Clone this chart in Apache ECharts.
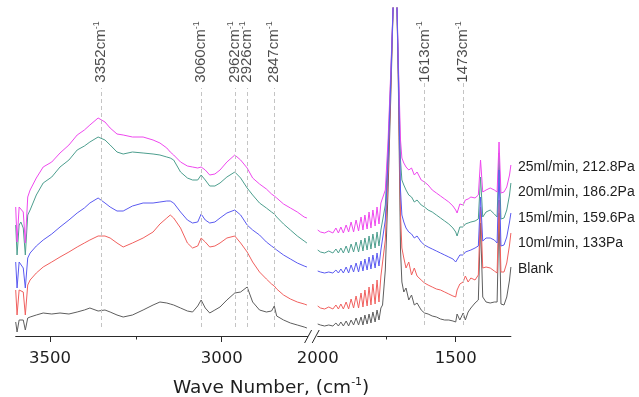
<!DOCTYPE html>
<html><head><meta charset="utf-8">
<script src="https://cdn.jsdelivr.net/npm/echarts@6/dist/echarts.min.js"></script>
<style>html,body{margin:0;padding:0;background:#fff}#c{width:639px;height:397px}</style>
</head><body><div id="c"></div>
<script>
// ---- data (intensity in arbitrary units, offset spectra) ----
const seriesNames = ['Blank', '10ml/min, 133Pa', '15ml/min, 159.6Pa', '20ml/min, 186.2Pa', '25ml/min, 212.8Pa'];
const legendOrder = ['25ml/min, 212.8Pa', '20ml/min, 186.2Pa', '15ml/min, 159.6Pa', '10ml/min, 133Pa', 'Blank'];
const seriesColors = ['#5e5e5e', '#f0605e', '#5a5af0', '#4d9e8e', '#ee48ee'];

const leftWave = [3600,3596,3590,3585,3578,3572,3565,3558,3540,3520,3495,3471,3445,3421,3400,3384,3360,3340,3325,3305,3287,3260,3229,3200,3180,3160,3150,3140,3120,3100,3085,3070,3060,3048,3035,3020,3005,2985,2962,2945,2926,2910,2890,2870,2855,2847,2840,2820,2800,2780,2760,2752];
const rightWave = [2000,1990,1975,1960,1945,1934,1925,1916,1907,1897,1888,1879,1870,1861,1852,1843,1836,1829,1821,1814,1807,1800,1792,1785,1778,1771,1765,1755,1745,1735,1725,1720,1715,1708,1700,1695,1688,1680,1670,1660,1650,1640,1625,1613,1600,1585,1570,1555,1540,1525,1510,1500,1495,1485,1473,1465,1455,1445,1430,1418,1410,1402,1390,1375,1360,1350,1343,1336,1325,1315,1305,1300];

const blankLeft = [14,4,16,14,16,6,18,19,21,23,22,23,22,24,26,28,25,26,24,21,19,21,26,31,34,33,32,31,28,25,24,30,36,28,23,26,29,36,43,44,49,34,26,24,25,30,20,16,13,11,9,8];
const ml10Left  = [46,21,46,48,44,21,51,56,63,69,74,79,84,89,93,96,100,100,98,93,89,93,98,104,112,118,121,118,108,93,88,90,98,94,89,90,93,98,100,93,84,74,64,57,52,50,47,41,37,34,32,31];
const ml15Left  = [74,48,74,74,68,48,78,83,90,96,102,109,116,123,128,133,138,133,129,125,125,130,133,133,134,135,135,133,124,116,113,114,122,116,113,114,118,123,126,121,111,106,101,94,90,88,86,81,77,73,70,69];
const ml20Left  = [111,81,111,114,108,81,121,126,141,153,159,169,176,186,190,194,199,196,191,184,182,184,183,182,181,179,178,176,164,158,156,156,161,156,150,150,153,159,164,158,148,141,133,128,124,122,119,112,106,100,95,93];
const ml25Left  = [129,94,129,131,124,93,139,146,158,169,174,183,191,201,206,211,218,214,208,202,201,199,199,196,193,188,184,181,174,170,169,168,169,166,161,162,166,174,181,176,168,158,152,147,142,140,138,132,128,124,119,118];

const blankRight = [12,11,10,11,10, 13,10,14,10,15,10,16,11,18,11,19,11,21,12,22,13,24,14,26,16,28, 31,66,146,241,345,420,360,256,86,54, 44,48,36,41,31,33,26,23,22,20, 19,17,16,16,15,14,22,16,23,16, 24,28,33,36,113,39,34,33,34,34, 123,32,31,39,56,69];
const ml10Right  = [30,28,27,29,27, 31,27,32,27,34,27,37,28,40,28,43,29,46,30,49,31,52,32,56,34,60, 61,96,166,251,345,420,360,261,121,88, 78,68,74,61,68,60,56,53,51,49, 47,46,44,42,40,39,46,52,54,60, 54,58,56,61,129,68,69,68,65,63, 136,64,64,73,91,103];
const ml15Right  = [65,64,63,64,63, 66,63,67,63,69,63,71,64,73,64,75,65,77,66,79,67,81,68,83,70,86, 86,116,176,256,345,420,360,266,146,121, 114,108,104,102,98,100,94,91,89,87, 85,83,81,79,77,74,72,81,81,84, 85,86,88,90,139,95,98,98,96,93, 166,90,91,99,114,123];
const ml20Right  = [86,84,83,85,83, 87,83,88,83,90,83,92,84,94,84,96,85,98,86,100,87,102,88,104,90,106, 106,131,186,261,345,420,360,271,176,156, 151,146,141,139,134,136,131,129,126,124, 121,118,115,112,108,104,100,109,109,112, 113,114,115,117,159,119,124,126,122,119, 183,117,118,126,141,153];
const ml25Right  = [106,104,103,105,103, 108,103,109,103,111,104,114,104,116,105,119,106,121,107,124,108,126,110,129,112,133, 131,146,196,266,345,420,360,276,196,178, 173,169,166,168,161,164,156,154,151,146, 143,140,137,134,130,126,123,132,131,136, 137,139,138,141,176,144,146,148,146,144, 194,143,144,149,161,171];

const peaksLeft = [3352, 3060, 2962, 2926, 2847];
const peaksRight = [1613, 1473];
const leftTickLabels = [3500, 3000];
const leftMinorTicks = [3250];
const rightTickLabels = [2000, 1500];
const rightMajorTicks = [1500];
const rightMinorTicks = [1750];

// ---- build ----
const leftVals = [blankLeft, ml10Left, ml15Left, ml20Left, ml25Left];
const rightVals = [blankRight, ml10Right, ml15Right, ml20Right, ml25Right];
const drawOrder = [0, 1, 3, 4, 2];

const chart = echarts.init(document.getElementById('c'), null, {renderer: 'canvas'});
const hFont = 'DejaVu Sans';
const lFont = 'Liberation Sans';

function xAx(gridIndex, min, max, labels, ticks, tickLen, showLine) {
  return {
    type: 'value', gridIndex, min, max, inverse: true, position: 'bottom', offset: 0,
    axisLine: {show: showLine, onZero: false, lineStyle: {color: '#2a2a2a', width: 1}},
    axisTick: {show: true, inside: false, length: tickLen, customValues: ticks, lineStyle: {color: '#2a2a2a', width: 1}},
    axisLabel: {show: labels.length > 0, customValues: labels.length ? labels : undefined, margin: 14,
      formatter: v => String(v),
      fontFamily: hFont, fontSize: 16.5, color: '#1e1e1e'},
    splitLine: {show: false}
  };
}
const yAx = gi => ({type: 'value', gridIndex: gi, min: 0, max: 328, show: false});

const series = [];
drawOrder.forEach(k => {
  series.push({name: seriesNames[k], type: 'line', xAxisIndex: 0, yAxisIndex: 0, showSymbol: false, symbol: 'none',
    data: leftWave.map((w, i) => [w, leftVals[k][i]]), lineStyle: {color: seriesColors[k], width: 1},
    itemStyle: {color: seriesColors[k]}, clip: true, silent: true});
  series.push({name: seriesNames[k], type: 'line', xAxisIndex: 2, yAxisIndex: 1, showSymbol: false, symbol: 'none',
    data: rightWave.map((w, i) => [w, rightVals[k][i]]), lineStyle: {color: seriesColors[k], width: 1},
    itemStyle: {color: seriesColors[k]}, clip: true, silent: true});
});

function peakSeries(xi, yi, peaks, lineTop, lineBottom) {
  return {
    type: 'scatter', xAxisIndex: xi, yAxisIndex: yi, symbolSize: 1, silent: true,
    itemStyle: {color: 'rgba(0,0,0,0)'},
    data: peaks.map(p => [p, 284]),
    label: {show: true, position: 'inside', rotate: 90, align: 'center', verticalAlign: 'middle',
      formatter: p => '{a|' + p.value[0] + 'cm}{b|-1}',
      rich: {a: {fontFamily: lFont, fontSize: 15, color: '#1e1e1e', lineHeight: 18, verticalAlign: 'middle'},
             b: {fontFamily: lFont, fontSize: 9, color: '#1e1e1e', lineHeight: 18, verticalAlign: 'top'}}},
    markLine: {silent: true, symbol: ['none', 'none'], label: {show: false},
      lineStyle: {color: '#c4c4c4', type: [4, 3], width: 1},
      data: peaks.map(p => [{coord: [p, lineBottom]}, {coord: [p, lineTop]}])}
  };
}
series.push(peakSeries(0, 0, peaksLeft, 248, 9));
series.push(peakSeries(2, 1, peaksRight, 254, 11));

chart.setOption({
  animation: false,
  backgroundColor: '#fff',
  grid: [
    {left: 15.7, width: 291.9, top: 8, height: 328},
    {left: 317.7, width: 193.2, top: 8, height: 328}
  ],
  xAxis: [
    xAx(0, 2750, 3600, leftTickLabels, leftTickLabels, 6, true),
    xAx(0, 2750, 3600, [], leftMinorTicks, 3.5, false),
    xAx(1, 1300, 2000, rightTickLabels, rightMajorTicks, 6, true),
    xAx(1, 1300, 2000, [], rightMinorTicks, 3.5, false)
  ],
  yAxis: [yAx(0), yAx(1)],
  legend: {
    data: legendOrder, orient: 'vertical', left: 513, top: 160, icon: 'none',
    itemWidth: 0, itemHeight: 14, itemGap: 11.5, selectedMode: false, padding: 0,
    textStyle: {fontFamily: lFont, fontSize: 14, color: '#1e1e1e'}
  },
  title: {
    text: 'Wave Number, (cm{s|-1})', left: 173, top: 377, padding: 0,
    textStyle: {fontFamily: hFont, fontSize: 18.5, fontWeight: 'normal', color: '#1e1e1e', lineHeight: 22,
      rich: {s: {fontFamily: hFont, fontSize: 11, color: '#1e1e1e', verticalAlign: 'top', lineHeight: 22}}}
  },
  series
});

// axis-break marks
const pA = chart.convertToPixel({xAxisIndex: 0, yAxisIndex: 0}, [2750, 0]);
const pB = chart.convertToPixel({xAxisIndex: 2, yAxisIndex: 1}, [2000, 0]);
const slash = cx => ({type: 'line', shape: {x1: cx - 3.5, y1: pA[1] + 7, x2: cx + 3.5, y2: pA[1] - 6},
  style: {stroke: '#2a2a2a', lineWidth: 1}, silent: true});
chart.setOption({graphic: [slash(pA[0] + 0.5), slash(pB[0] - 2)]});
</script></body></html>
